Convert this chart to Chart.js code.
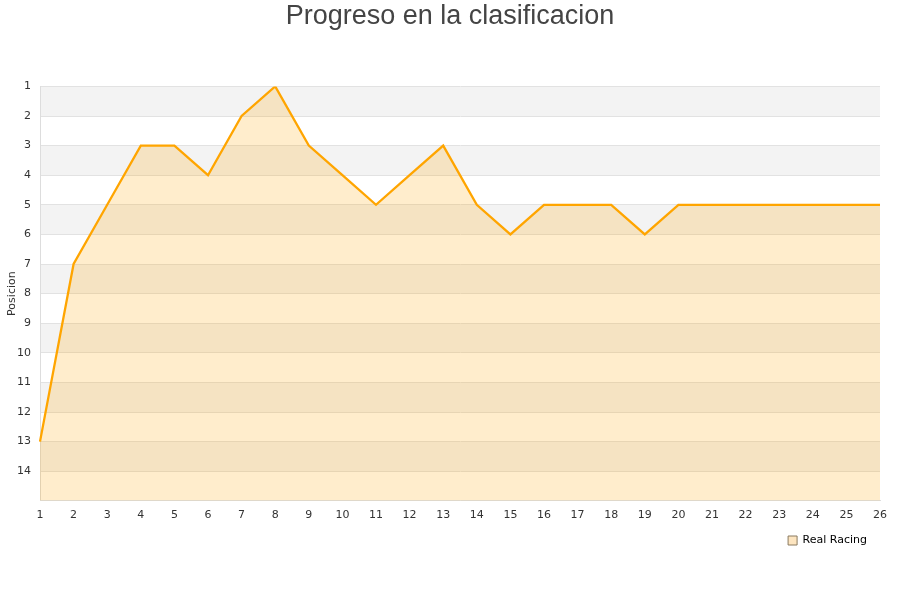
<!DOCTYPE html>
<html>
<head>
<meta charset="utf-8">
<script src="https://cdn.jsdelivr.net/npm/chart.js@4.4.0/dist/chart.umd.min.js"></script>
<style>
  body { margin: 0; background: #fff; }
</style>
</head>
<body>
<canvas id="posChart" width="900" height="600"></canvas>
<script>
'use strict';

// datos de la grafica
const jornadas = ['1', '2', '3', '4', '5', '6', '7', '8', '9', '10', '11', '12', '13',
  '14', '15', '16', '17', '18', '19', '20', '21', '22', '23', '24', '25', '26'];
const posiciones = [13, 7, 5, 3, 3, 4, 2, 1, 3, 4, 5, 4, 3,
  5, 6, 5, 5, 5, 6, 5, 5, 5, 5, 5, 5, 5];
const equipo = 'Real Racing';
const tituloGrafica = 'Progreso en la clasificacion';
const tituloEjeY = 'Posicion';

// bandas alternas grises en el fondo
const bandsPlugin = {
  id: 'bands',
  beforeDraw(chart) {
    const ctx = chart.ctx;
    const area = chart.chartArea;
    const y = chart.scales.y;
    ctx.save();
    for (let v = 1; v < 15; v += 2) {
      const top = y.getPixelForValue(v);
      const bottom = y.getPixelForValue(v + 1);
      ctx.fillStyle = '#f3f3f3';
      ctx.fillRect(area.left, top, area.right - area.left, bottom - top);
    }
    ctx.restore();
  }
};

const ctx = document.getElementById('posChart').getContext('2d');
const posChart = new Chart(ctx, {
  type: 'line',
  data: {
    labels: jornadas,
    datasets: [{
      label: equipo,
      data: posiciones,
      borderColor: '#ffa500',
      backgroundColor: 'rgba(255, 165, 0, 0.2)',
      borderWidth: 2.3,
      fill: 'start',
      tension: 0,
      pointRadius: 0
    }]
  },
  options: {
    responsive: false,
    animation: false,
    layout: {
      padding: { left: 0, right: 0, top: 0, bottom: 44 }
    },
    plugins: {
      title: {
        display: true,
        text: tituloGrafica,
        color: '#444',
        font: { family: 'Liberation Sans', size: 27, weight: 'normal' },
        padding: { top: 0, bottom: 54 }
      },
      legend: {
        position: 'bottom',
        align: 'end',
        fullSize: false,
        labels: {
          boxWidth: 9,
          boxHeight: 9,
          color: '#222',
          padding: 13,
          font: { family: 'DejaVu Sans', size: 11 },
          generateLabels() {
            return [{
              text: equipo,
              fillStyle: '#fde5c0',
              strokeStyle: '#8a7a60',
              lineWidth: 1,
              datasetIndex: 0
            }];
          }
        }
      },
      tooltip: { enabled: false }
    },
    scales: {
      x: {
        offset: false,
        grid: { display: false },
        border: { color: '#dddddd' },
        ticks: {
          color: '#333',
          font: { family: 'DejaVu Sans', size: 11 },
          maxRotation: 0,
          autoSkip: false,
          padding: 0
        }
      },
      y: {
        reverse: true,
        min: 1,
        max: 15,
        grid: { color: '#e2e2e2', drawTicks: false },
        border: { color: '#dddddd' },
        title: {
          display: true,
          text: tituloEjeY,
          color: '#333',
          font: { family: 'DejaVu Sans', size: 11 },
          padding: { top: 6, bottom: 0 }
        },
        ticks: {
          stepSize: 1,
          color: '#333',
          padding: 9,
          font: { family: 'DejaVu Sans', size: 11 },
          callback: function(value) {
            return value === 15 ? '' : value;
          }
        },
        afterFit(scale) {
          scale.width = 40;
        }
      },
      // eje vacio a la derecha solo para dejar margen
      margenDer: {
        position: 'right',
        grid: { display: false },
        border: { display: false },
        ticks: { display: false },
        afterFit(scale) {
          scale.width = 20;
        }
      }
    }
  },
  plugins: [bandsPlugin]
});
</script>
</body>
</html>
